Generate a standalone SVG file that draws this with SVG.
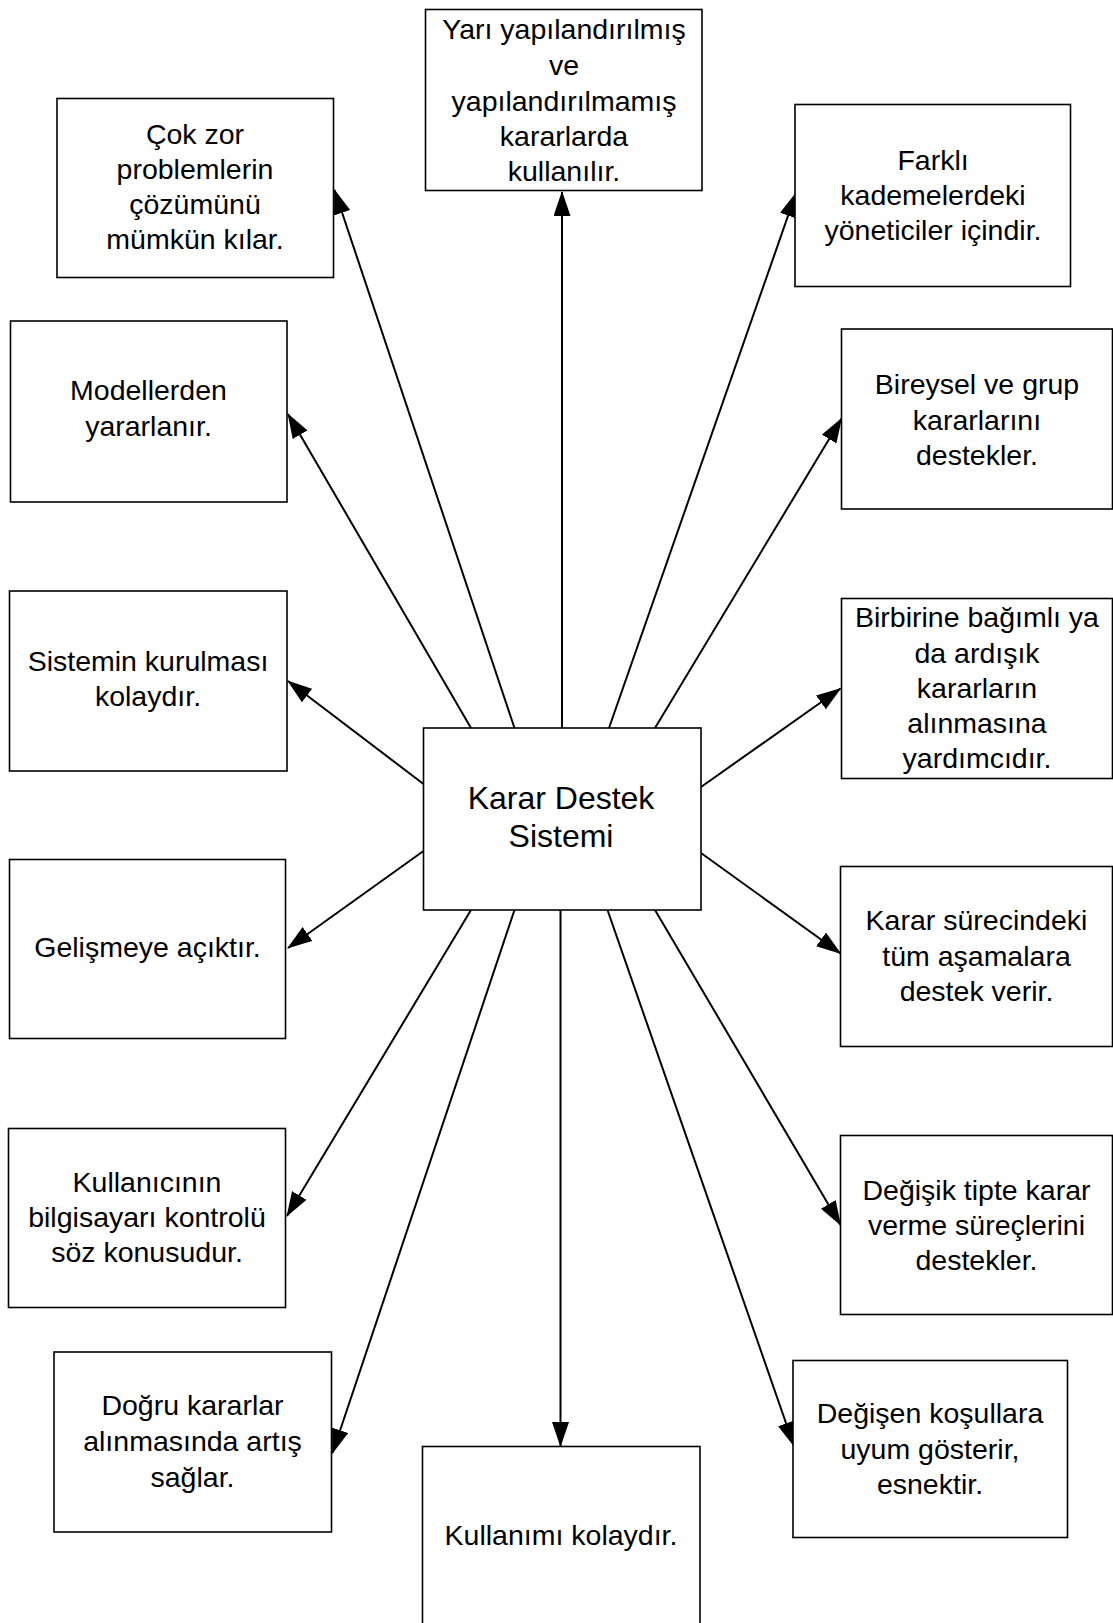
<svg xmlns="http://www.w3.org/2000/svg" width="1113" height="1623" viewBox="0 0 1113 1623">
  <style>
    .box { fill: #ffffff; stroke: #000000; stroke-width: 1.6; }
    .lbl { font-family: "Liberation Sans", Arial, sans-serif; font-size: 28.5px; fill: #000000; text-anchor: middle; }
    .title { font-size: 32px; }
    .link { stroke: #000000; stroke-width: 2; fill: none; marker-end: url(#arrow); }
  </style>
  <defs>
    <marker id="arrow" markerUnits="userSpaceOnUse" viewBox="0 0 25 17" markerWidth="25" markerHeight="17" refX="24" refY="8.5" orient="auto">
      <path d="M0,0 L25,8.5 L0,17 z" fill="#000000"/>
    </marker>
  </defs>
  <rect width="1113" height="1623" fill="#ffffff"/>

  <!-- connectors from the centre box to each feature -->
  <g id="connectors">
    <line class="link" x1="562" y1="728" x2="562" y2="192"/>
    <line class="link" x1="514.5" y1="728" x2="334.5" y2="190"/>
    <line class="link" x1="471" y1="728" x2="288" y2="414"/>
    <line class="link" x1="423.5" y1="784" x2="288" y2="681"/>
    <line class="link" x1="423.5" y1="851" x2="288" y2="948"/>
    <line class="link" x1="471" y1="910" x2="287" y2="1216"/>
    <line class="link" x1="514.5" y1="910" x2="332.5" y2="1453"/>
    <line class="link" x1="560.5" y1="910" x2="560.5" y2="1446"/>
    <line class="link" x1="607.5" y1="910" x2="794" y2="1446"/>
    <line class="link" x1="655" y1="910" x2="840.5" y2="1225"/>
    <line class="link" x1="701" y1="853" x2="840.5" y2="953.5"/>
    <line class="link" x1="701" y1="787" x2="840.5" y2="688.5"/>
    <line class="link" x1="655" y1="728" x2="841.5" y2="418.5"/>
    <line class="link" x1="609" y1="728" x2="796" y2="193"/>
  </g>

  <g id="center">
    <rect class="box" x="423.5" y="728" width="277.5" height="182"/>
    <text class="lbl title" x="561" y="808.5">Karar Destek</text>
    <text class="lbl title" x="561" y="847">Sistemi</text>
  </g>

  <g id="n-yari">
    <rect class="box" x="425.5" y="9.5" width="276.5" height="181"/>
    <text class="lbl" x="564" y="39">Yarı yapılandırılmış</text>
    <text class="lbl" x="564" y="75">ve</text>
    <text class="lbl" x="564" y="110.5">yapılandırılmamış</text>
    <text class="lbl" x="564" y="145.5">kararlarda</text>
    <text class="lbl" x="564" y="181">kullanılır.</text>
  </g>

  <g id="n-cok-zor">
    <rect class="box" x="57" y="98.5" width="276.5" height="179"/>
    <text class="lbl" x="195" y="143.5">Çok zor</text>
    <text class="lbl" x="195" y="179">problemlerin</text>
    <text class="lbl" x="195" y="214">çözümünü</text>
    <text class="lbl" x="195" y="249">mümkün kılar.</text>
  </g>

  <g id="n-farkli">
    <rect class="box" x="795" y="104.5" width="275.5" height="182"/>
    <text class="lbl" x="933" y="169.5">Farklı</text>
    <text class="lbl" x="933" y="204.5">kademelerdeki</text>
    <text class="lbl" x="933" y="240">yöneticiler içindir.</text>
  </g>

  <g id="n-modeller">
    <rect class="box" x="10.5" y="321" width="276.5" height="181"/>
    <text class="lbl" x="148.5" y="400">Modellerden</text>
    <text class="lbl" x="148.5" y="435.5">yararlanır.</text>
  </g>

  <g id="n-bireysel">
    <rect class="box" x="841.5" y="329" width="271" height="180"/>
    <text class="lbl" x="977" y="394">Bireysel ve grup</text>
    <text class="lbl" x="977" y="429.5">kararlarını</text>
    <text class="lbl" x="977" y="464.5">destekler.</text>
  </g>

  <g id="n-sistemin">
    <rect class="box" x="9.5" y="591" width="277.5" height="180"/>
    <text class="lbl" x="148" y="670.5">Sistemin kurulması</text>
    <text class="lbl" x="148" y="706">kolaydır.</text>
  </g>

  <g id="n-birbirine">
    <rect class="box" x="841.5" y="598.5" width="271" height="180"/>
    <text class="lbl" x="977" y="627">Birbirine bağımlı ya</text>
    <text class="lbl" x="977" y="662.5">da ardışık</text>
    <text class="lbl" x="977" y="697.5">kararların</text>
    <text class="lbl" x="977" y="733">alınmasına</text>
    <text class="lbl" x="977" y="768">yardımcıdır.</text>
  </g>

  <g id="n-gelisme">
    <rect class="box" x="9.5" y="859.5" width="276" height="179"/>
    <text class="lbl" x="147.5" y="956.5">Gelişmeye açıktır.</text>
  </g>

  <g id="n-surec">
    <rect class="box" x="840.5" y="866.5" width="272" height="180"/>
    <text class="lbl" x="976.5" y="929.5">Karar sürecindeki</text>
    <text class="lbl" x="976.5" y="965.5">tüm aşamalara</text>
    <text class="lbl" x="976.5" y="1001">destek verir.</text>
  </g>

  <g id="n-kullanici">
    <rect class="box" x="8.5" y="1128.5" width="277" height="179"/>
    <text class="lbl" x="147" y="1191.5">Kullanıcının</text>
    <text class="lbl" x="147" y="1226.5">bilgisayarı kontrolü</text>
    <text class="lbl" x="147" y="1262">söz konusudur.</text>
  </g>

  <g id="n-degisik">
    <rect class="box" x="840.5" y="1135.5" width="272" height="179"/>
    <text class="lbl" x="976.5" y="1199.5">Değişik tipte karar</text>
    <text class="lbl" x="976.5" y="1235">verme süreçlerini</text>
    <text class="lbl" x="976.5" y="1270">destekler.</text>
  </g>

  <g id="n-dogru">
    <rect class="box" x="54" y="1352" width="277.5" height="180"/>
    <text class="lbl" x="192.5" y="1415">Doğru kararlar</text>
    <text class="lbl" x="192.5" y="1451">alınmasında artış</text>
    <text class="lbl" x="192.5" y="1486.5">sağlar.</text>
  </g>

  <g id="n-degisen">
    <rect class="box" x="793" y="1360.5" width="274.5" height="177"/>
    <text class="lbl" x="930" y="1423">Değişen koşullara</text>
    <text class="lbl" x="930" y="1458.5">uyum gösterir,</text>
    <text class="lbl" x="930" y="1493.5">esnektir.</text>
  </g>

  <g id="n-kullanim">
    <rect class="box" x="422.5" y="1446.5" width="277.5" height="190"/>
    <text class="lbl" x="561" y="1544.5">Kullanımı kolaydır.</text>
  </g>
</svg>
